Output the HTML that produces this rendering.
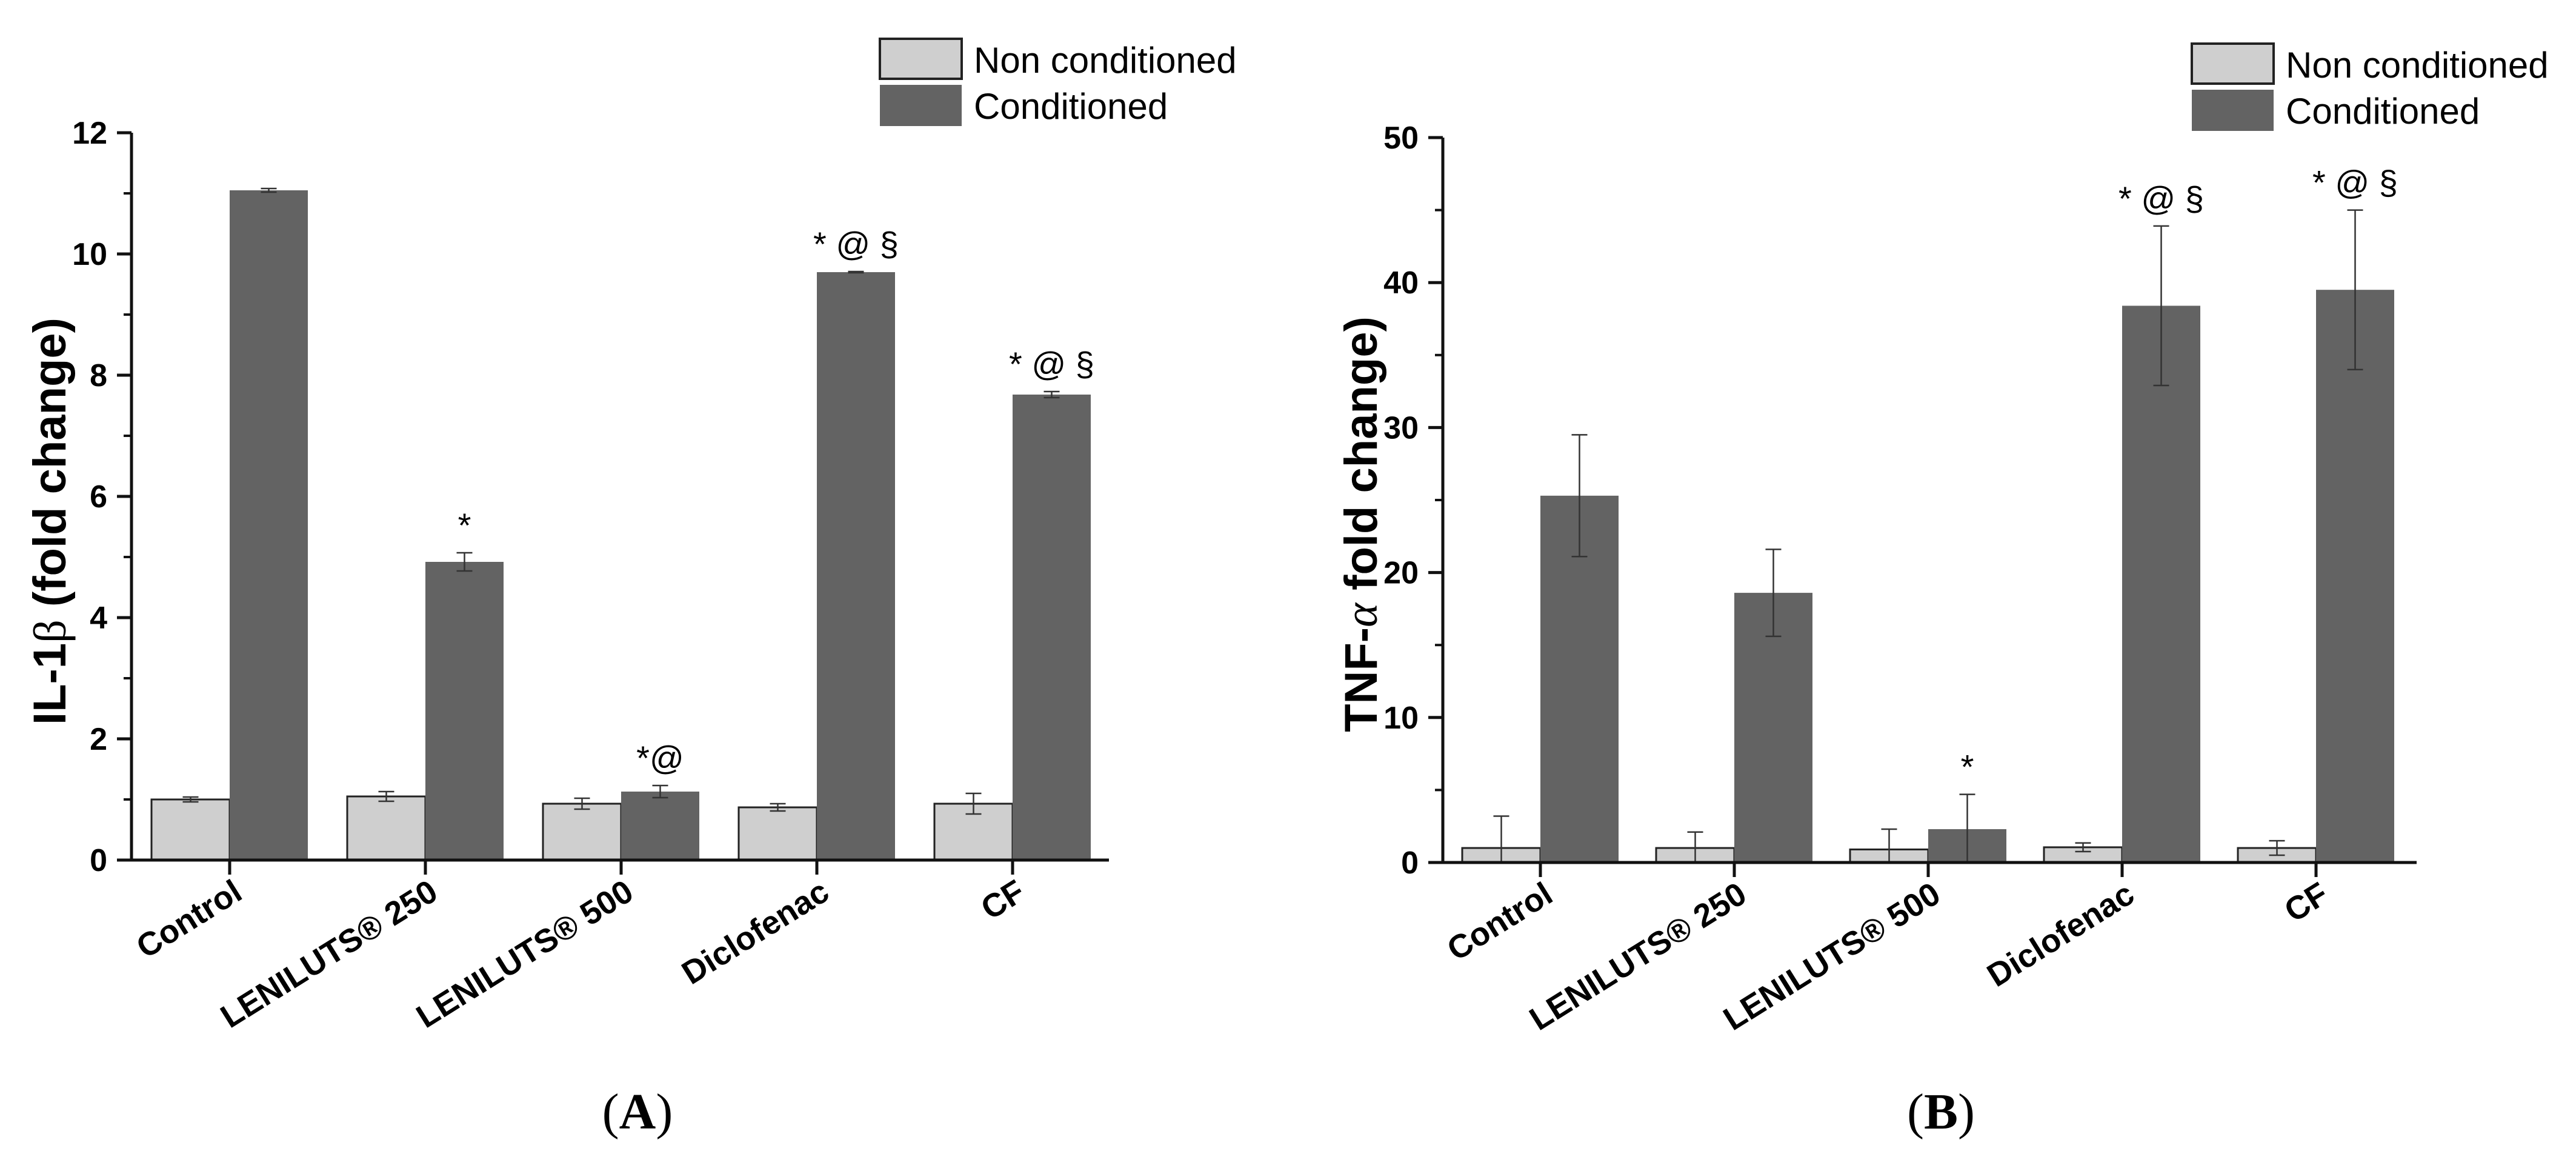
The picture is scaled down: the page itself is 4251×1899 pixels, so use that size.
<!DOCTYPE html>
<html><head><meta charset="utf-8"><style>
html,body{margin:0;padding:0;background:#fff;}
svg{display:block;}
text{font-family:"Liberation Sans",Arial,sans-serif;}
</style></head><body>
<svg id="fig" width="4251" height="1899" viewBox="0 0 4251 1899" xmlns="http://www.w3.org/2000/svg"></svg>
<script>
const categories = ["Control","LENILUTS® 250","LENILUTS® 500","Diclofenac","CF"];
const ilNon = [1.0,1.05,0.93,0.87,0.93];
const ilNonErr = [0.04,0.08,0.09,0.06,0.17];
const ilCond = [11.05,4.92,1.13,9.7,7.68];
const ilCondErr = [0.03,0.15,0.1,0.01,0.05];
const ilMarks = ["","*","*@","* @ §","* @ §"];
const ilTicks = [0,2,4,6,8,10,12];
const tnfNon = [1.0,1.0,0.9,1.05,1.0];
const tnfNonErr = [2.2,1.1,1.4,0.3,0.5];
const tnfCond = [25.3,18.6,2.3,38.4,39.5];
const tnfCondErr = [4.2,3.0,2.4,5.5,5.5];
const tnfMarks = ["","","*","* @ §","* @ §"];
const tnfTicks = [0,10,20,30,40,50];

const NS="http://www.w3.org/2000/svg";
const svg=document.getElementById('fig');
function mk(tag,attrs,parent,txt){const e=document.createElementNS(NS,tag);for(const k in attrs)e.setAttribute(k,attrs[k]);if(txt!==undefined)e.textContent=txt;(parent||svg).appendChild(e);return e;}

function panel(cfg){
  const g=mk('g',{});
  
  
  const y=v=>cfg.y0-(v/cfg.ymax)*(cfg.y0-cfg.yTop);
  const gx=i=>cfg.g0+i*cfg.gs;
  const bw=129;
  cfg.non.forEach((v,i)=>{
    const r=mk('rect',{x:gx(i)-bw,y:y(v),width:bw,height:cfg.y0-y(v),fill:'#cfcfcf',stroke:'#222','stroke-width':3},g);
    
    
  });
  cfg.cond.forEach((v,i)=>{
    const r=mk('rect',{x:gx(i),y:y(v),width:bw,height:cfg.y0-y(v),fill:'#636363'},g);
    
    
  });
  function err(cx,v,e){
    const t=y(v+e),b=Math.min(y(v-e),cfg.y0);
    const p=mk('path',{d:`M${cx},${t}V${b}M${cx-13},${t}H${cx+13}`+(y(v-e)<=cfg.y0?`M${cx-13},${b}H${cx+13}`:''),stroke:'#333','stroke-width':2.5,fill:'none'},g);
    
    
  }
  cfg.non.forEach((v,i)=>err(gx(i)-bw/2,v,cfg.nonErr[i]));
  cfg.cond.forEach((v,i)=>err(gx(i)+bw/2,v,cfg.condErr[i]));
  cfg.marks.forEach((m,i)=>{
    if(!m)return;
    const t=mk('text',{x:gx(i)+bw/2,y:y(cfg.cond[i]+cfg.condErr[i])-26,'text-anchor':'middle','font-size':56,'xml:space':'preserve'},g,m.replace(/ /g,'  '));
    
    
  });
  const ax=mk('path',{d:`M${cfg.ax},${cfg.yTop}V${cfg.y0}M${cfg.ax-24},${cfg.y0}H${cfg.axEnd}`,stroke:'#111','stroke-width':5,fill:'none'},g);
  
  
  cfg.ticks.forEach((tv,k)=>{
    mk('line',{x1:cfg.ax-24,x2:cfg.ax,y1:y(tv),y2:y(tv),stroke:'#111','stroke-width':5},g);
    if(k<cfg.ticks.length-1){const mv=(tv+cfg.ticks[k+1])/2;mk('line',{x1:cfg.ax-13,x2:cfg.ax,y1:y(mv),y2:y(mv),stroke:'#111','stroke-width':4},g);}
    const t=mk('text',{x:cfg.ax-40,y:y(tv)+18,'text-anchor':'end','font-size':52,'font-weight':'bold'},g,String(tv));
    
    
  });
  categories.forEach((c,i)=>{
    mk('line',{x1:gx(i),x2:gx(i),y1:cfg.y0,y2:cfg.y0+24,stroke:'#111','stroke-width':5},g);
    const t=mk('text',{x:0,y:0,'text-anchor':'end','font-size':54,'font-weight':'bold',transform:`translate(${gx(i)+24},${cfg.y0+62}) rotate(-32)`},g,c);
    
    
  });
  const yt=mk('text',{x:0,y:0,'text-anchor':'middle','font-size':76,'font-weight':'bold','xml:space':'preserve',transform:`translate(${cfg.titleX},${cfg.titleY}) rotate(-90)`},g);
  yt.innerHTML=cfg.title;
  
  
  const l1=mk('rect',{x:cfg.lx,y:cfg.ly,width:135,height:66,fill:'#cfcfcf',stroke:'#222','stroke-width':4},g);
  
  
  const l2=mk('rect',{x:cfg.lx,y:cfg.ly+76,width:135,height:68,fill:'#636363'},g);
  
  
  const t1=mk('text',{x:cfg.lx+155,y:cfg.ly+56,'font-size':60},g,'Non conditioned');
  
  
  const t2=mk('text',{x:cfg.lx+155,y:cfg.ly+132,'font-size':60},g,'Conditioned');
  
  
  const pl=mk('text',{x:cfg.plX,y:1862,'text-anchor':'middle','font-size':84,style:'font-family:"Liberation Serif",serif'},g);
  pl.innerHTML='(<tspan font-weight="bold">'+cfg.letter+'</tspan>)';
  
  
}

panel({name:'panel-a-il1b',non:ilNon,nonErr:ilNonErr,cond:ilCond,condErr:ilCondErr,marks:ilMarks,ticks:ilTicks,ymax:12,
  y0:1419,yTop:219,ax:217,axEnd:1830,g0:379,gs:323,lx:1452,ly:64,titleX:108,titleY:860,plX:1052,letter:'A',
  title:'IL-1<tspan style="font-family:\'Liberation Serif\',serif;font-weight:normal">β</tspan> (fold change)'});
panel({name:'panel-b-tnfa',non:tnfNon,nonErr:tnfNonErr,cond:tnfCond,condErr:tnfCondErr,marks:tnfMarks,ticks:tnfTicks,ymax:50,
  y0:1423,yTop:227,ax:2381,axEnd:3988,g0:2542,gs:320,lx:3617,ly:72,titleX:2272,titleY:865,plX:3203,letter:'B',
  title:'TNF-<tspan style="font-family:\'Liberation Serif\',serif;font-style:italic;font-weight:normal">α</tspan>  fold change)'});
</script>
</body></html>
